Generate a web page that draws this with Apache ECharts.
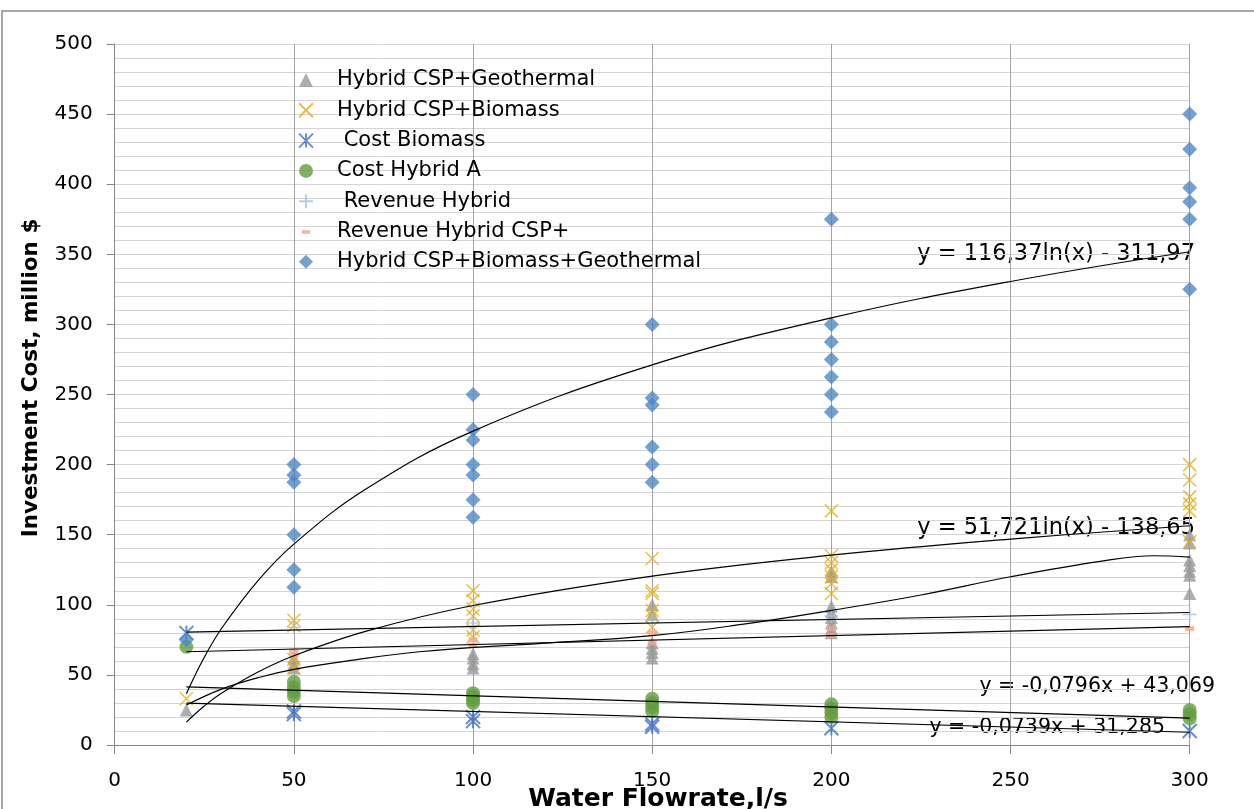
<!DOCTYPE html>
<html><head><meta charset="utf-8">
<script src="https://cdn.jsdelivr.net/npm/echarts@6/dist/echarts.min.js"></script>
<style>html,body{margin:0;padding:0;background:#fff;}#c{width:1254px;height:809px;}</style>
</head><body><div id="c"></div>
<script>
// ---- data (x = water flowrate l/s, y = million $) ----
const xTicks = [0, 50, 100, 150, 200, 250, 300];
const geoHybrid = [[20,25],[50,62],[50,58],[50,55],[100,65],[100,62],[100,58],[100,55],
  [150,100],[150,93],[150,73],[150,69],[150,66],[150,62],
  [200,124],[200,120],[200,99],[200,95],[200,91],[200,87],[200,83],[200,80],
  [300,150],[300,144],[300,132],[300,128],[300,124],[300,121],[300,108]];
const bioHybrid = [[20,33],[50,89],[50,85],[50,61],[50,55],
  [100,110],[100,103],[100,97],[100,92],[100,82],[100,77],
  [150,133],[150,110],[150,108],[150,96],[150,92],[150,84],
  [200,167],[200,135],[200,130],[200,125],[200,120],[200,115],[200,108],
  [300,200],[300,189],[300,177],[300,172],[300,167],[300,145]];
const costBiomass = [[20,80],[50,24],[50,22],[100,20],[100,17],[150,15],[150,13],[200,12],[300,10]];
const costHybridA = [[20,70],[50,45],[50,41],[50,38],[50,35],[100,37],[100,35],[100,32],[100,30],
  [150,33],[150,30],[150,27],[150,24],[200,29],[200,26],[200,23],[200,20],[300,25],[300,22],[300,19]];
const revHybrid = [[50,84],[100,87],[100,85],[150,89],[200,92],[300,93]];
const revHybridCSP = [[50,67],[50,64],[100,75],[100,71],[150,80],[150,73],[200,83],[200,78],[300,83]];
const triHybrid = [[20,75],[50,200],[50,192.5],[50,187.5],[50,150],[50,125],[50,112.5],
  [100,250],[100,225],[100,217.5],[100,200],[100,192.5],[100,175],[100,162.5],
  [150,300],[150,247.5],[150,242.5],[150,212.5],[150,200],[150,187.5],
  [200,375],[200,300],[200,287.5],[200,275],[200,262.5],[200,250],[200,237.5],
  [300,450],[300,425],[300,397.5],[300,387.5],[300,375],[300,325]];
// trendlines
const trendTri = [[20,36.6],[25,62.6],[30,83.8],[40,117.3],[50,143.3],[70,182.4],[100,223.9],[150,271.1],[200,304.6],[250,330.6],[300,351.8]];
const trendBio = [[20,16.3],[25,27.8],[30,37.3],[40,52.1],[50,63.7],[70,81.1],[100,99.5],[150,120.5],[200,135.4],[250,146.9],[300,156.4]];
const trendGeo = [[20,28.5],[30,40],[41,48.7],[50,54],[65,60],[85,66.5],[119,72.5],[150,78],[175,86],[200,96],[225,107],[250,120],[275,131],[290,135],[300,134]];
const trendA = [[20,41.5],[300,19.2]];
const trendCost = [[20,29.8],[300,9.1]];
const trendRev = [[20,80.5],[300,94.5]];
const trendRevCSP = [[20,66.5],[300,84.5]];
const eqLabels = ['y = 116,37ln(x) - 311,97','y = 51,721ln(x) - 138,65','y = -0,0796x + 43,069','y = -0,0739x + 31,285'];
const names = ['Hybrid CSP+Geothermal','Hybrid CSP+Biomass',' Cost Biomass','Cost Hybrid A',' Revenue Hybrid','Revenue Hybrid CSP+','Hybrid CSP+Biomass+Geothermal'];
const xTitle = 'Water Flowrate,l/s';
const yTitle = 'Investment Cost, million $';

const FONT = 'DejaVu Sans';
const P = {
  x: 'path://M0,0L10,10M10,0L0,10',
  star: 'path://M0,0L10,10M10,0L0,10M5,0L5,10',
  plus: 'path://M5,0L5,10M0,5L10,5',
  tri: 'path://M5,0L10,10L0,10Z',
  dia: 'path://M5,0L10,5L5,10L0,5Z',
  dashLegend: 'path://M0,0M10,10M2,4L8,4L8,6.6L2,6.6Z'
};
const C = {geo:'#9a9a9a', bio:'#E6AE16', cost:'#4472C4', a:'#639E3F', rev:'#9DC3E6', revcsp:'#F2A584', tri:'#4D88C6'};

function sc(name, data, symbol, size, color, stroke) {
  return {
    type:'scatter', name, data, symbol, symbolSize:size, z:2,
    itemStyle: stroke ? {color:'rgba(0,0,0,0)', borderColor:color, borderWidth:stroke} : {color},
    emphasis:{disabled:true}
  };
}
function tl(data, smooth) {
  return {type:'line', data, smooth: smooth ? 0.4 : false, showSymbol:false, symbol:'none', z:3, silent:true,
    lineStyle:{color:'#000', width:1.2}, emphasis:{disabled:true}};
}
const chart = echarts.init(document.getElementById('c'));
chart.setOption({
  animation:false,
  backgroundColor:'#fff',
  grid:{left:114.7, right:64.3, top:44, bottom:64, containLabel:false, outerBoundsMode:'none'},
  xAxis:{type:'value', min:0, max:300, interval:50,
    axisLine:{show:true, onZero:false, lineStyle:{color:'#868686', width:1}},
    axisTick:{show:true, length:9, lineStyle:{color:'#868686'}},
    axisLabel:{fontFamily:FONT, fontSize:20, color:'#000', margin:26,
      formatter:v => xTicks.includes(v) ? String(v) : ''},
    splitLine:{show:true, lineStyle:{color:'#a3a3a3', width:1}}
  },
  yAxis:{type:'value', min:0, max:500, interval:50,
    axisLine:{show:true, lineStyle:{color:'#868686', width:1}},
    axisTick:{show:true, length:8, lineStyle:{color:'#868686'}},
    axisLabel:{fontFamily:FONT, fontSize:20, color:'#000', margin:22},
    splitLine:{show:true, lineStyle:{color:'#d4d4d4', width:1}},
    minorTick:{show:false, splitNumber:5},
    minorSplitLine:{show:true, lineStyle:{color:'#d4d4d4', width:1}}
  },
  legend:{show:true, orient:'vertical', left:298, top:69, padding:0,
    itemWidth:52, itemHeight:14, itemGap:8.3, symbolKeepAspect:true,
    textStyle:{fontFamily:FONT, fontSize:21, color:'#000', lineHeight:22},
    data:[{name:names[0], icon:P.tri}, names[1], names[2], names[3], names[4],
      {name:names[5], icon:P.dashLegend}, {name:names[6], icon:P.dia}]
  },
  series:[
    sc(names[0], geoHybrid, 'triangle', 13, C.geo, 0),
    sc(names[1], bioHybrid, P.x, 13, C.bio, 1.5),
    sc(names[2], costBiomass, P.star, 14, C.cost, 2),
    sc(names[3], costHybridA, 'circle', 14, C.a, 0),
    sc(names[4], revHybrid, P.plus, 14, C.rev, 1.5),
    sc(names[5], revHybridCSP, 'rect', [9,5], C.revcsp, 0),
    sc(names[6], triHybrid, 'diamond', 15, C.tri, 0),
    tl(trendTri, true), tl(trendBio, true), tl(trendGeo, true),
    tl(trendA), tl(trendCost), tl(trendRev), tl(trendRevCSP)
  ],
  graphic:[
    {type:'rect', silent:true, z:-10, shape:{x:2, y:11, width:1400, height:900}, style:{fill:'none', stroke:'#8c8c8c', lineWidth:1.5}},
    {type:'text', silent:true, x:658, y:799, style:{text:xTitle, font:'bold 25px "DejaVu Sans"', fill:'#000', align:'center', verticalAlign:'middle'}},
    {type:'text', silent:true, x:31, y:378, rotation:Math.PI/2, style:{text:yTitle, font:'bold 21.5px "DejaVu Sans"', fill:'#000', align:'center', verticalAlign:'middle'}},
    {type:'text', silent:true, x:1195, y:254, style:{text:eqLabels[0], font:'22.5px "DejaVu Sans"', fill:'#000', align:'right', verticalAlign:'middle'}},
    {type:'text', silent:true, x:1195, y:528, style:{text:eqLabels[1], font:'22.5px "DejaVu Sans"', fill:'#000', align:'right', verticalAlign:'middle'}},
    {type:'text', silent:true, x:1215, y:687, style:{text:eqLabels[2], font:'20.5px "DejaVu Sans"', fill:'#000', align:'right', verticalAlign:'middle'}},
    {type:'text', silent:true, x:1165, y:728, style:{text:eqLabels[3], font:'20.5px "DejaVu Sans"', fill:'#000', align:'right', verticalAlign:'middle'}}
  ]
});
</script></body></html>
